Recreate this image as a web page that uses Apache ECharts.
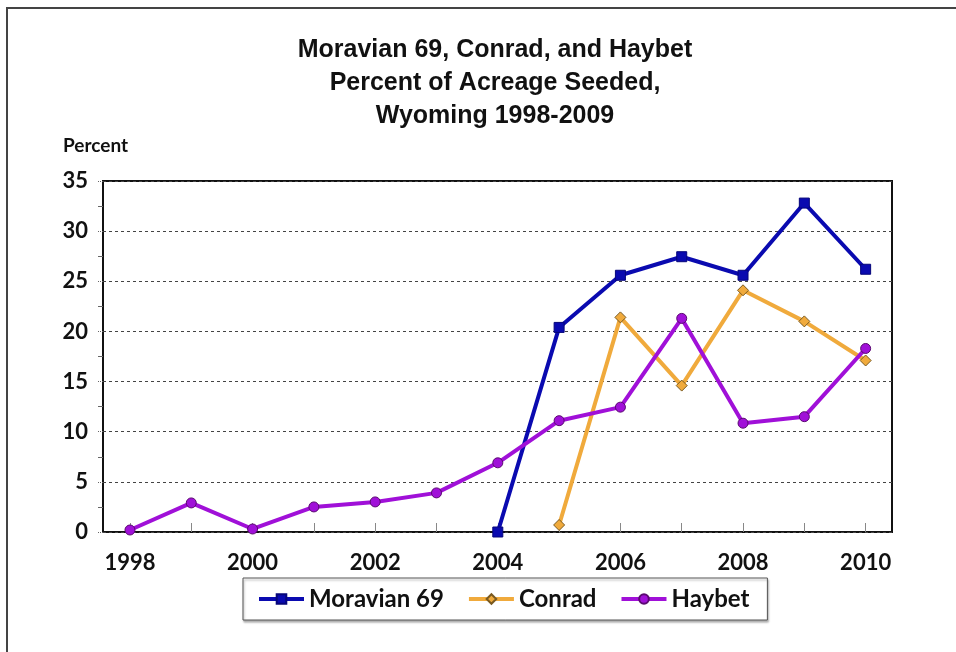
<!DOCTYPE html>
<html>
<head>
    <meta charset="utf-8"/>
    <title>Moravian 69, Conrad, and Haybet</title>
    <script src="https://cdn.jsdelivr.net/npm/echarts@6/dist/echarts.min.js"></script>
    <style>
        html, body { margin: 0; padding: 0; background: #fff; }
    </style>
</head>
<body>
<div id="main" style="width: 956px; height: 652px"></div>
<script type="text/javascript">
    // data
    var years = [1998, 1999, 2000, 2001, 2002, 2003, 2004, 2005, 2006, 2007, 2008, 2009, 2010];
    var labelYears = [1998, 2000, 2002, 2004, 2006, 2008, 2010];
    var moravian = [null, null, null, null, null, null, 0, 20.4, 25.6, 27.45, 25.6, 32.8, 26.2];
    var conrad = [null, null, null, null, null, null, null, 0.7, 21.4, 14.6, 24.1, 21.0, 17.1];
    var haybet = [0.2, 2.9, 0.3, 2.5, 3.0, 3.9, 6.9, 11.1, 12.45, 21.3, 10.85, 11.5, 18.3];

    function pairs(vals) {
        var out = [];
        for (var i = 0; i < years.length; i++) {
            if (vals[i] !== null) out.push([years[i], vals[i]]);
        }
        return out;
    }

    var labelFont = 'Lato, "DejaVu Sans", sans-serif';

    var myChart = echarts.init(document.getElementById("main"));

    var option = {
        animation: false,
        backgroundColor: '#fff',
        title: {
            text: 'Moravian 69, Conrad, and Haybet\nPercent of Acreage Seeded,\nWyoming 1998-2009',
            left: 490,
            textAlign: 'center',
            top: 29,
            textStyle: {
                fontFamily: '"Liberation Sans", Arial, sans-serif',
                fontWeight: 'bold',
                fontSize: 25,
                lineHeight: 33,
                color: '#111'
            }
        },
        graphic: [
            {
                type: 'rect',
                shape: {x: 7, y: 8, width: 1000, height: 1000},
                style: {fill: null, stroke: '#444', lineWidth: 2},
                silent: true
            },
            {
                type: 'text',
                left: 63,
                top: 136,
                style: {
                    text: 'Percent',
                    font: 'bold 19px ' + labelFont,
                    fill: '#111'
                }
            }
        ],
        legend: {
            left: 243,
            top: 578,
            itemWidth: 45,
            itemHeight: 12,
            itemGap: 23,
            padding: [9, 18, 9, 14],
            borderColor: '#555',
            borderWidth: 1,
            shadowColor: 'rgba(0,0,0,0.3)',
            shadowOffsetX: 1,
            shadowOffsetY: 2,
            shadowBlur: 2,
            backgroundColor: '#fff',
            lineStyle: {width: 4},
            textStyle: {
                fontFamily: labelFont,
                fontWeight: 'bold',
                fontSize: 24,
                color: '#111'
            },
            data: ['Moravian 69', 'Conrad', 'Haybet']
        },
        grid: {
            left: 103,
            right: 956 - 892,
            top: 181,
            bottom: 652 - 532,
            show: true,
            borderColor: '#111',
            borderWidth: 2
        },
        xAxis: {
            type: 'value',
            min: 1997.56,
            max: 2010.43,
            splitLine: {show: false},
            axisLine: {show: false},
            axisTick: {
                show: true,
                inside: true,
                length: 9,
                customValues: years,
                lineStyle: {color: '#888', width: 1}
            },
            axisLabel: {
                customValues: labelYears,
                margin: 20,
                fontFamily: labelFont,
                fontWeight: 'bold',
                fontSize: 22,
                color: '#111',
                formatter: function (v) { return String(v); }
            }
        },
        yAxis: {
            type: 'value',
            min: 0,
            max: 35,
            interval: 5,
            axisLine: {show: false},
            axisTick: {
                show: true,
                length: 6,
                lineStyle: {color: '#666', type: 'dotted'}
            },
            minorTick: {
                show: true,
                splitNumber: 2,
                length: 5,
                lineStyle: {color: '#666'}
            },
            splitLine: {
                show: true,
                lineStyle: {color: '#444', type: [3, 3], width: 1}
            },
            axisLabel: {
                margin: 15,
                fontFamily: labelFont,
                fontWeight: 'bold',
                fontSize: 22,
                color: '#111'
            }
        },
        series: [
            {
                name: 'Moravian 69',
                type: 'line',
                data: pairs(moravian),
                symbol: 'rect',
                symbolSize: 10,
                lineStyle: {width: 4, color: '#0a0ab0'},
                itemStyle: {color: '#0a0ab0', borderColor: '#06067a', borderWidth: 1},
                z: 3
            },
            {
                name: 'Conrad',
                type: 'line',
                data: pairs(conrad),
                symbol: 'diamond',
                symbolSize: 11,
                lineStyle: {width: 4, color: '#f0aa3c'},
                itemStyle: {color: '#f0aa3c', borderColor: '#7a5a20', borderWidth: 1},
                z: 4
            },
            {
                name: 'Haybet',
                type: 'line',
                data: pairs(haybet),
                symbol: 'circle',
                symbolSize: 10,
                lineStyle: {width: 4, color: '#a010d8'},
                itemStyle: {color: '#a010d8', borderColor: '#5a0a70', borderWidth: 1},
                z: 5
            }
        ]
    };

    myChart.setOption(option);
</script>
</body>
</html>
